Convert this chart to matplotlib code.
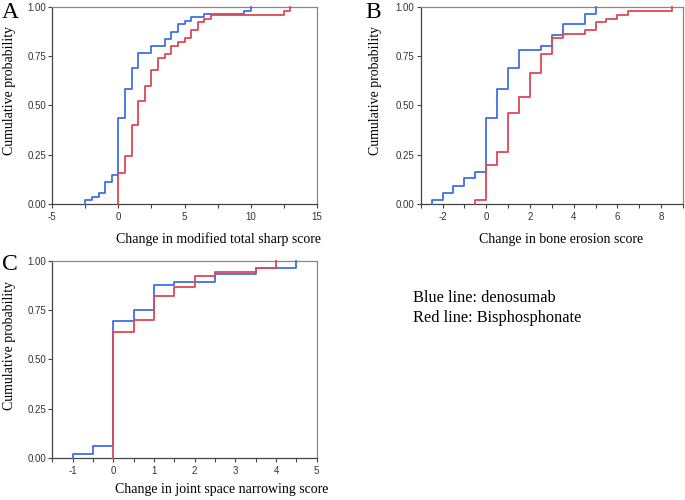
import numpy as np
import matplotlib
matplotlib.use("Agg")
import matplotlib.pyplot as plt
from matplotlib.ticker import MultipleLocator

# Panel A: modified total sharp score
a_blue_x = [-2.5, -2, -1.5, -1, -0.5, 0, 0.5, 1, 1.5, 2.5, 3.5, 4, 4.5, 5, 5.5, 6.5, 9.5, 10]
a_blue_y = [0.02, 0.037, 0.057, 0.11, 0.149, 0.436, 0.581, 0.69, 0.767, 0.80, 0.836, 0.873, 0.91, 0.93, 0.946, 0.964, 0.98, 1.0]
a_red_x = [0, 0.5, 1, 1.5, 2, 2.5, 3, 3.5, 4, 4.5, 5, 5.5, 6, 6.5, 7, 12.5, 13]
a_red_y = [0.159, 0.245, 0.40, 0.52, 0.60, 0.68, 0.74, 0.76, 0.80, 0.82, 0.84, 0.88, 0.92, 0.94, 0.96, 0.98, 1.0]

# Panel B: bone erosion score
b_blue_x = [-2.5, -2, -1.5, -1, -0.5, 0, 0.5, 1, 1.5, 2.5, 3, 3.5, 4.5, 5]
b_blue_y = [0.02, 0.057, 0.093, 0.13, 0.164, 0.436, 0.581, 0.69, 0.782, 0.80, 0.856, 0.91, 0.964, 1.0]
b_red_x = [-0.5, 0, 0.5, 1, 1.5, 2, 2.5, 3, 3.5, 4.5, 5, 5.5, 6, 6.5, 8.5]
b_red_y = [0.02, 0.20, 0.262, 0.46, 0.54, 0.662, 0.76, 0.84, 0.863, 0.88, 0.92, 0.94, 0.96, 0.98, 1.0]

# Panel C: joint space narrowing score
c_blue_x = [-1, -0.5, 0, 0.5, 1, 1.5, 2.5, 3.5, 4.5]
c_blue_y = [0.022, 0.059, 0.694, 0.75, 0.875, 0.894, 0.932, 0.965, 1.0]
c_red_x = [0, 0.5, 1, 1.5, 2, 2.5, 3.5, 4]
c_red_y = [0.64, 0.70, 0.82, 0.865, 0.922, 0.944, 0.965, 1.0]

yticks = [0.0, 0.25, 0.5, 0.75, 1.0]
ytick_labels = ["0.00", "0.25", "0.50", "0.75", "1.00"]

BLUE = "#3f6fe6"
RED = "#e04757"
SERIF = ["Liberation Serif", "DejaVu Serif"]
SANS = ["Liberation Sans", "DejaVu Sans"]

W, H = 685, 500
fig = plt.figure(figsize=(W / 100, H / 100), dpi=100)


def px_axes(l, r, t, b):
    return fig.add_axes([l / W, 1 - b / H, (r - l) / W, (b - t) / H])


def ecdf(ax, xs, ys, color):
    x = np.r_[xs[0], xs]
    y = np.r_[0.0, ys]
    ax.step(x, y, where="post", color=color, lw=1.3, clip_on=False, zorder=3)


def fmt_x(v, pos):
    if abs(v - round(v)) < 1e-9:
        return "%d" % round(v)
    return "%g" % v


def style(ax, xlim, major, minor):
    ax.set_xlim(*xlim)
    ax.set_ylim(0, 1)
    ax.xaxis.set_major_locator(MultipleLocator(major))
    ax.xaxis.set_minor_locator(MultipleLocator(minor))
    ax.xaxis.set_major_formatter(plt.FuncFormatter(fmt_x))
    ax.set_yticks(yticks)
    ax.set_yticklabels(ytick_labels)
    for s in ["left", "bottom"]:
        ax.spines[s].set_color("#444444")
        ax.spines[s].set_linewidth(0.9)
    for s in ["top", "right"]:
        ax.spines[s].set_color("#888888")
        ax.spines[s].set_linewidth(0.9)
    ax.tick_params(axis="both", which="both", direction="out", length=3,
                   width=0.8, color="#444444", labelsize=7, labelcolor="#333333",
                   pad=1.5)
    ax.tick_params(axis="x", which="both", pad=3)
    for lab in ax.get_xticklabels() + ax.get_yticklabels():
        lab.set_family(SANS)


axA = px_axes(52.3, 316.7, 6.7, 204)
ecdf(axA, a_blue_x, a_blue_y, BLUE)
ecdf(axA, a_red_x, a_red_y, RED)
style(axA, (-5, 15), 5, 2.5)

axB = px_axes(420.7, 683, 6.7, 204)
ecdf(axB, b_blue_x, b_blue_y, BLUE)
ecdf(axB, b_red_x, b_red_y, RED)
style(axB, (-3, 9), 2, 1)

axC = px_axes(52.3, 316.7, 260.7, 458)
ecdf(axC, c_blue_x, c_blue_y, BLUE)
ecdf(axC, c_red_x, c_red_y, RED)
style(axC, (-1.5, 5), 1, 0.5)


def ftext(x, y, s, **kw):
    fig.text(x / W, 1 - y / H, s, family=SERIF, **kw)


# panel letters
ftext(2, 13, "A", fontsize=17, va="center", ha="left")
ftext(365, 13, "B", fontsize=17, va="center", ha="left")
ftext(2, 265, "C", fontsize=17, va="center", ha="left")

# y labels
ftext(10, 90, "Cumulative probability", fontsize=10, rotation=90, va="center", ha="center")
ftext(375, 90, "Cumulative probability", fontsize=10, rotation=90, va="center", ha="center")
ftext(10, 345, "Cumulative probability", fontsize=10, rotation=90, va="center", ha="center")

# x labels
ftext(218, 239, "Change in modified total sharp score", fontsize=10, va="center", ha="center")
ftext(561, 239, "Change in bone erosion score", fontsize=10, va="center", ha="center")
ftext(222, 490, "Change in joint space narrowing score", fontsize=10, va="center", ha="center")

# legend text
ftext(413, 298, "Blue line: denosumab", fontsize=11.8, va="center", ha="left")
ftext(413, 318, "Red line: Bisphosphonate", fontsize=11.8, va="center", ha="left")

fig.savefig("out.png", dpi=100)
